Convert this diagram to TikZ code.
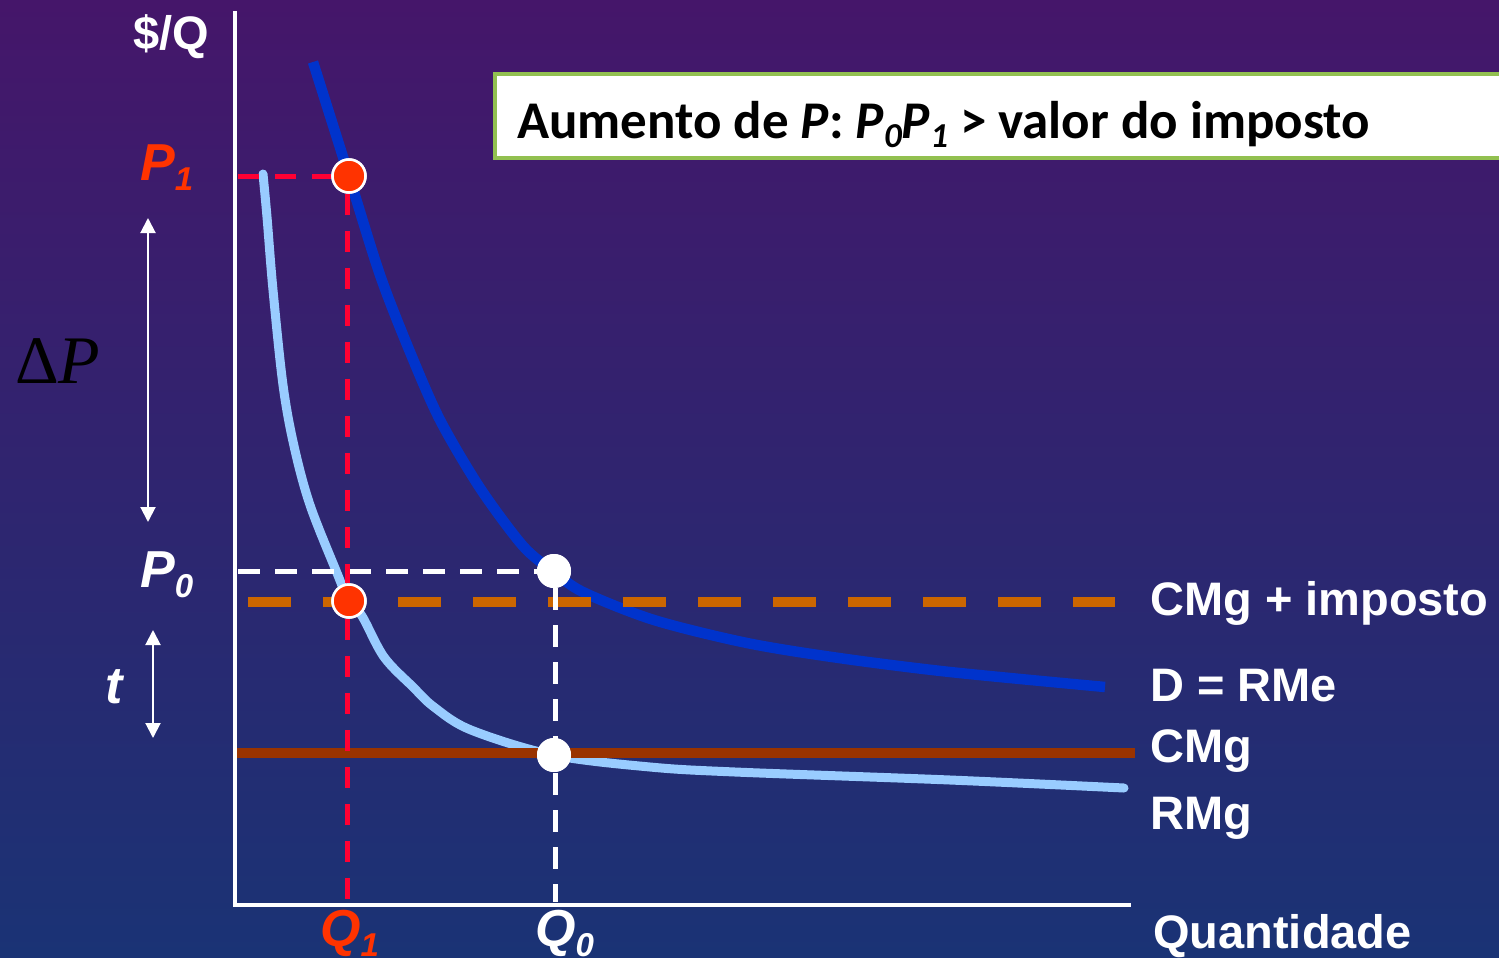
\documentclass[tikz,border=0pt]{standalone}
\usepackage{fontspec}
\setmainfont{Liberation Sans}
\newfontfamily\calib{Carlito}
\newfontfamily\tnr{Liberation Serif}
\usetikzlibrary{arrows.meta}
\definecolor{bgtop}{HTML}{45166A}
\definecolor{bgmid}{HTML}{2E2270}
\definecolor{bgbot}{HTML}{1A3375}
\definecolor{lblred}{HTML}{FF3300}
\definecolor{dashred}{HTML}{FF0033}
\definecolor{dblue}{HTML}{0033CC}
\definecolor{lblue}{HTML}{99CCFF}
\definecolor{cbrown}{HTML}{993300}
\definecolor{corange}{HTML}{CC6600}
\definecolor{bgreen}{HTML}{92C050}
\newcommand\axlbl[2]{{\fontsize{52}{52}\selectfont\bfseries\itshape #1\raisebox{-10pt}{\fontsize{33}{33}\selectfont #2}}}
\newcommand\boxsub[1]{\raisebox{-9pt}{\fontsize{35}{35}\selectfont\itshape #1}}
\tikzset{
  curveD/.style={draw=dblue, line width=10.5pt},
  curveR/.style={draw=lblue, line width=9pt, line cap=round, line join=round},
  cmgline/.style={draw=cbrown, line width=10pt},
  taxline/.style={draw=corange, line width=10pt, dash pattern=on 43pt off 32pt},
  whdash/.style={draw=white, line width=5pt, dash pattern=on 22pt off 15pt},
  rddash/.style={draw=dashred, line width=5pt, dash pattern=on 21pt off 16pt},
  axisline/.style={draw=white, line width=4pt},
  dblarrow/.style={draw=white, line width=2pt, {Triangle[width=15pt,length=15pt]}-{Triangle[width=15pt,length=15pt]}},
  reddot/.style={circle, fill=lblred, draw=white, line width=2.5pt, minimum size=33pt, inner sep=0pt},
  whitedot/.style={circle, fill=white, minimum size=34pt, inner sep=0pt},
  legend/.style={anchor=base west, text=white, font=\fontsize{47}{47}\selectfont\bfseries, inner sep=0pt},
  axlabel/.style={anchor=base west, inner sep=0pt},
}
\begin{document}
\begin{tikzpicture}[x=1pt,y=-1pt]
\useasboundingbox (0,0) rectangle (1499,958);
\shade[top color=bgtop, middle color=bgmid, bottom color=bgbot] (0,0) rectangle (1499,958);

% curves
\draw[curveR] plot[smooth, tension=0.55] coordinates {(263,174) (267,217) (273,290) (283,385) (294,446) (310,505) (337,573) (349,601) (362,616) (384,657) (413,687) (434,707) (471,730) (553,755) (650,767) (735,772) (950,780) (1124,788)};
\draw[curveD] plot[smooth, tension=0.5] coordinates {(313,62) (349,176) (380,275) (410,352) (440,420) (480,488) (523,546) (553,571) (583,592) (654,620) (747,643) (839,658) (950,672) (1105,687)};

% horizontal cost lines
\coordinate (cmgL) at (233,753);
\coordinate (cmgR) at (1135,753);
\draw[cmgline] (cmgL) -- (cmgR);
\coordinate (taxL) at (248,602);
\coordinate (taxR) at (1115,602);
\draw[taxline] (taxL) -- (taxR);

% points
\node[reddot] (e1) at (349,176) {};
\node[reddot] (e2) at (349,601) {};
\node[whitedot] (m0) at (554,571) {};
\node[whitedot] (c0) at (554,755) {};

% guide lines
\coordinate (p1ax) at (238,176);
\coordinate (p0ax) at (238,571);
\coordinate (q1ax) at (347,905);
\coordinate (q0ax) at (555,902);
\draw[whdash] (p0ax) -- (m0.west);
\draw[whdash] (m0.south) ++(1,0) coordinate (m0s) (m0s) -- (q0ax);
\draw[rddash] (p1ax) -- (e1.west);
\draw[rddash] (e1.south) ++(-2,0) coordinate (e1s) (e1s) -- (e2.north -| e1s);
\draw[rddash] (e2.south) ++(-2,0) coordinate (e2s) (e2s) -- (q1ax);

% redraw dots on top
\node[reddot] at (e1) {};
\node[reddot] at (e2) {};
\node[whitedot] at (m0) {};
\node[whitedot] at (c0) {};

% axes
\coordinate (orig) at (235,905);
\coordinate (ytop) at (235,11);
\coordinate (xend) at (1131,905);
\draw[axisline] (ytop) -- (orig) -- (xend);

% double arrows
\coordinate (dpT) at (148,218);
\coordinate (dpB) at (148,522);
\draw[dblarrow] (dpT) -- (dpB);
\coordinate (tT) at (153,630);
\coordinate (tB) at (153,738);
\draw[dblarrow] (tT) -- (tB);

% axis labels
\node[axlabel, text=white, font=\fontsize{47}{47}\selectfont\bfseries] (yl) at (133,50) {\$/Q};
\node[axlabel, text=lblred] (p1l) at (140,180) {\axlbl{P}{1}};
\node[axlabel, text=white] (p0l) at (140,587) {\axlbl{P}{0}};
\node[axlabel, text=white] (tl) at (105,703) {\axlbl{t}{}};
\node[axlabel, text=lblred] (q1l) at (320,946) {\axlbl{Q}{1}};
\node[axlabel, text=white] (q0l) at (535,946) {\axlbl{Q}{0}};
\node[axlabel, text=black, font=\tnr\fontsize{68}{68}\selectfont] (dpl) at (15,383) {Δ\textit{P}};

% legend labels
\node[legend] (lt) at (1150,615) {CMg + imposto};
\node[legend] (ld) at (1150,701) {D = RMe};
\node[legend] (lc) at (1150,762) {CMg};
\node[legend] (lr) at (1150,829) {RMg};
\node[legend] (lq) at (1153,948) {Quantidade};

% title box
\draw[fill=white, draw=bgreen, line width=3.5pt] (495,74) rectangle (1515,158);
\node[anchor=base west, inner sep=0pt, text=black, font=\calib\fontsize{53}{53}\selectfont\bfseries] (title) at (517,138)
  {Aumento de \textit{P}: \textit{P}\boxsub{0}\textit{P}\boxsub{1} > valor do imposto};
\end{tikzpicture}
\end{document}
